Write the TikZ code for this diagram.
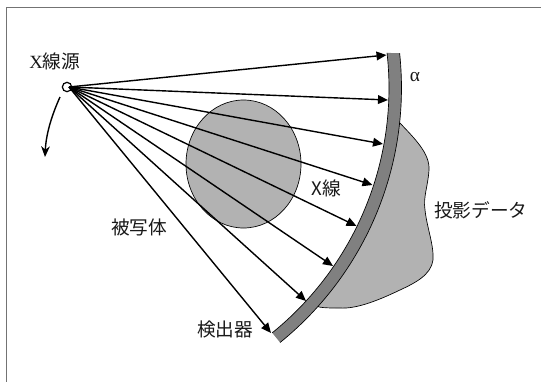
\documentclass[tikz,border=0pt]{standalone}
\usepackage{fontspec}
\setmainfont{Liberation Sans}
\newfontfamily\cjk{Noto Sans CJK JP}
\newfontfamily\serifx{Liberation Serif}
\usetikzlibrary{arrows.meta}
\definecolor{lightfill}{HTML}{B2B2B2}
\definecolor{bandfill}{HTML}{808080}
\tikzset{
  label text/.style={inner sep=0pt,font=\fontsize{14pt}{16pt}\selectfont\cjk,text=black!90},
  ray/.style={line width=1.05pt,-{Triangle[length=7.5pt,width=6.5pt]}},
  thin edge/.style={draw=black,line width=0.5pt}
}
\begin{document}
\begin{tikzpicture}[x=0.75pt,y=-0.75pt]
\useasboundingbox (0,0) rectangle (541,382);
\fill[white] (0,0) rectangle (541,382);
\draw[color=black!55,line width=1pt] (541,7.5) -- (6.5,7.5) -- (6.5,382);
% subject
\draw[thin edge,fill=lightfill] (243.5,164) ellipse [x radius=57.5,y radius=64];
% projection data
\draw[thin edge,fill=lightfill] (399,122) .. controls (414,138) and (430,153) .. (429,170)
  .. controls (428,186) and (423,197) .. (425,210)
  .. controls (427,228) and (434,245) .. (433,260)
  .. controls (431,275) and (415,283) .. (400,290)
  .. controls (375,302) and (355,309) .. (340,308)
  .. controls (330,308) and (325,308) .. (319,307)
  -- plot[domain=-41.8:-6,samples=40] ({74+322*cos(\x)},{88-322*sin(\x)}) -- cycle;
% detector
\fill[bandfill] plot[domain=6.4:-51,samples=60] ({74+315*cos(\x)},{88-315*sin(\x)})
  -- plot[domain=-51:6.1,samples=60] ({74+327.5*cos(\x)},{88-327.5*sin(\x)}) -- cycle;
\draw[thin edge] plot[domain=6.4:-51,samples=60] ({74+315*cos(\x)},{88-315*sin(\x)});
\draw[thin edge] plot[domain=6.1:-51,samples=60] ({74+327.5*cos(\x)},{88-327.5*sin(\x)});
% source and targets
\coordinate (s) at (69,87);
\coordinate (t1) at (386.5,55);
\coordinate (t2) at (388,100);
\coordinate (t3) at (383,144);
\coordinate (t4) at (372.5,185);
\coordinate (t5) at (356.5,226);
\coordinate (t6) at (333,266);
\coordinate (t7) at (306,301);
\coordinate (t8) at (271,333);
\node[circle,draw=black,fill=white,line width=0.9pt,minimum size=7pt,inner sep=0pt] (src) at (67,87) {};
\foreach \t in {t1,t2,t3,t4,t5,t6,t7,t8} \draw[ray] (s) -- (\t);
% rotation arrow
\coordinate (r0) at (60,97);
\coordinate (r1) at (45,157);
\draw[line width=1.05pt,-{Stealth[length=8pt,width=6.5pt,inset=2.5pt]}] (r0) .. controls (51,117) and (46,135) .. (r1);
% labels
\node[label text,anchor=west] (lsrc) at (29,61) {{\serifx X}線源};
\node[anchor=base,inner sep=0pt,font=\fontsize{14.5pt}{16pt}\selectfont\serifx,text=black!90] (lalpha) at (415,81) {α};
\node[label text] (lobj) at (139,227) {被写体};
\node[label text] (ldet) at (225,329) {検出器};
\node[label text] (lx) at (326.5,188) {X線};
\node[label text,anchor=west] (lproj) at (434,210) {投影データ};
\end{tikzpicture}
\end{document}
